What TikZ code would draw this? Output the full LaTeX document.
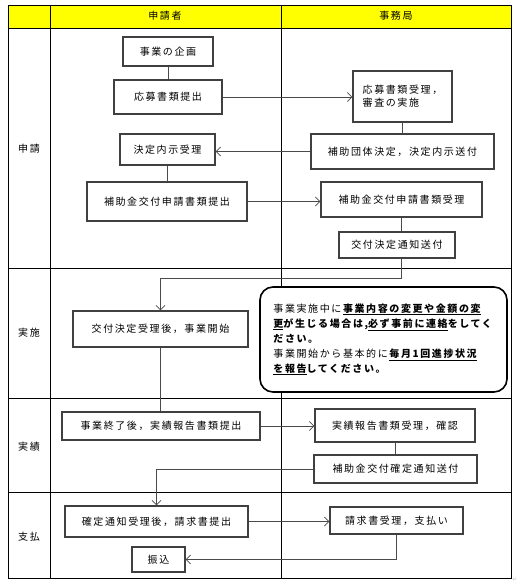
\documentclass[tikz,border=0pt]{standalone}
\usepackage{fontspec}
\setmainfont{Noto Sans CJK JP}[LetterSpace=16]
\newfontfamily\symfont{DejaVu Sans}
\usetikzlibrary{arrows.meta,calc}
\definecolor{boxc}{HTML}{404040}
\definecolor{linec}{HTML}{4A4A4A}
\definecolor{hdr}{HTML}{FFFF00}
\begin{document}
\begin{tikzpicture}[x=1pt,y=-1pt,
  box/.style={draw=boxc,line width=1.1pt,fill=white,inner sep=0pt,font=\fontsize{10}{13}\selectfont},
  conn/.style={draw=linec,line width=0.8pt},
  arr/.style={conn,-{Straight Barb[length=4.5pt,width=9pt]}},
  grid/.style={draw=black,line width=0.8pt},
  lbl/.style={font=\fontsize{10}{12}\selectfont,inner sep=0pt}]
\useasboundingbox (0,0) rectangle (529,586);
% table
\fill[hdr] (8,5) rectangle (511,28);
\draw[grid] (8,5) rectangle (511,578);
\draw[grid] (8,28) -- (511,28);
\draw[grid] (8,268) -- (511,268);
\draw[grid] (8,398) -- (511,398);
\draw[grid] (8,492) -- (511,492);
\draw[grid] (50,5) -- (50,578);
\draw[grid] (281,5) -- (281,578);
\node[lbl] (h1) at (165,16) {申請者};
\node[lbl] (h2) at (396,16) {事務局};
\node[lbl] (r1) at (29,149) {申請};
\node[lbl] (r2) at (29,333) {実施};
\node[lbl] (r3) at (29,447) {実績};
\node[lbl] (r4) at (29,537) {支払};
% boxes
\node[box,minimum width=90pt,minimum height=29pt] (plan) at (168,51.5) {事業の企画};
\node[box,minimum width=108pt,minimum height=34pt] (apply) at (168,97) {応募書類提出};
\node[box,minimum width=99pt,minimum height=51pt,align=left] (recv) at (402.5,96.5) {応募書類受理，\\審査の実施};
\node[box,minimum width=95pt,minimum height=31pt] (naiji) at (167.5,149.5) {決定内示受理};
\node[box,minimum width=183pt,minimum height=35pt] (kettei) at (402.5,151.5) {補助団体決定，決定内示送付};
\node[box,minimum width=160pt,minimum height=39pt] (shinsei) at (167,201.5) {補助金交付申請書類提出};
\node[box,minimum width=161pt,minimum height=35pt] (shinseiR) at (401.5,199.5) {補助金交付申請書類受理};
\node[box,minimum width=116pt,minimum height=26pt] (tsuchi) at (397,245) {交付決定通知送付};
\node[box,minimum width=175pt,minimum height=36pt] (start) at (160.5,329) {交付決定受理後，事業開始};
\node[draw=black,line width=1.6pt,fill=white,rounded corners=13pt,minimum width=247pt,minimum height=105pt,align=left,inner sep=0pt,font=\fontsize{10}{15}\selectfont] (note) at (383.5,339.5)
 {事業実施中に\textbf{\underline{事業内容の変更や金額の変}}\\
  \textbf{\underline{更}が生じる場合は,\underline{必ず事前に連絡}をしてく}\\
  \textbf{ださい。}\\
  事業開始から基本的に\textbf{\underline{毎月1回進捗状況}}\\
  \textbf{\underline{を報告}してください。}};
\node[box,minimum width=198pt,minimum height=28pt] (finish) at (161,426) {事業終了後，実績報告書類提出};
\node[box,minimum width=160pt,minimum height=33pt] (jR) at (395,425.5) {実績報告書類受理，確認};
\node[box,minimum width=163pt,minimum height=28pt] (kakutei) at (395.5,469) {補助金交付確定通知送付};
\node[box,minimum width=183pt,minimum height=31pt] (seikyu) at (156.5,521.5) {確定通知受理後，請求書提出};
\node[box,minimum width=133pt,minimum height=27pt] (seikyuR) at (396.5,520.5) {請求書受理，支払い};
\node[box,minimum width=53pt,minimum height=25pt] (furi) at (158.5,559.5) {振込};
\node[inner sep=0pt,text=gray!50,font=\symfont\fontsize{6}{6}\selectfont] (pm) at (515,580) {↵};
% connectors
\draw[conn] (plan.south) -- (plan.south |- apply.north);
\draw[arr] (apply.east) -- (apply.east -| recv.west);
\draw[conn] (recv.south) -- (recv.south |- kettei.north);
\draw[arr] (kettei.west) -- (kettei.west -| naiji.east);
\draw[conn] (naiji.south) -- (naiji.south |- shinsei.north);
\draw[arr] (shinsei.east) -- (shinsei.east -| shinseiR.west);
\draw[conn] (shinseiR.south) -- (shinseiR.south |- tsuchi.north);
\coordinate (t1) at (shinseiR.south |- tsuchi.south);
\draw[arr] (t1) -- ++(0,20) -| (start.north);
\draw[conn] (start.south) -- (start.south |- finish.north);
\draw[arr] (finish.east) -- (finish.east -| jR.west);
\draw[conn] (jR.south) -- (jR.south |- kakutei.north);
\draw[arr] (kakutei.west) -| (seikyu.north);
\draw[arr] (seikyu.east) -- (seikyu.east -| seikyuR.west);
\draw[arr] (seikyuR.south) |- (furi.east);
\end{tikzpicture}
\end{document}
